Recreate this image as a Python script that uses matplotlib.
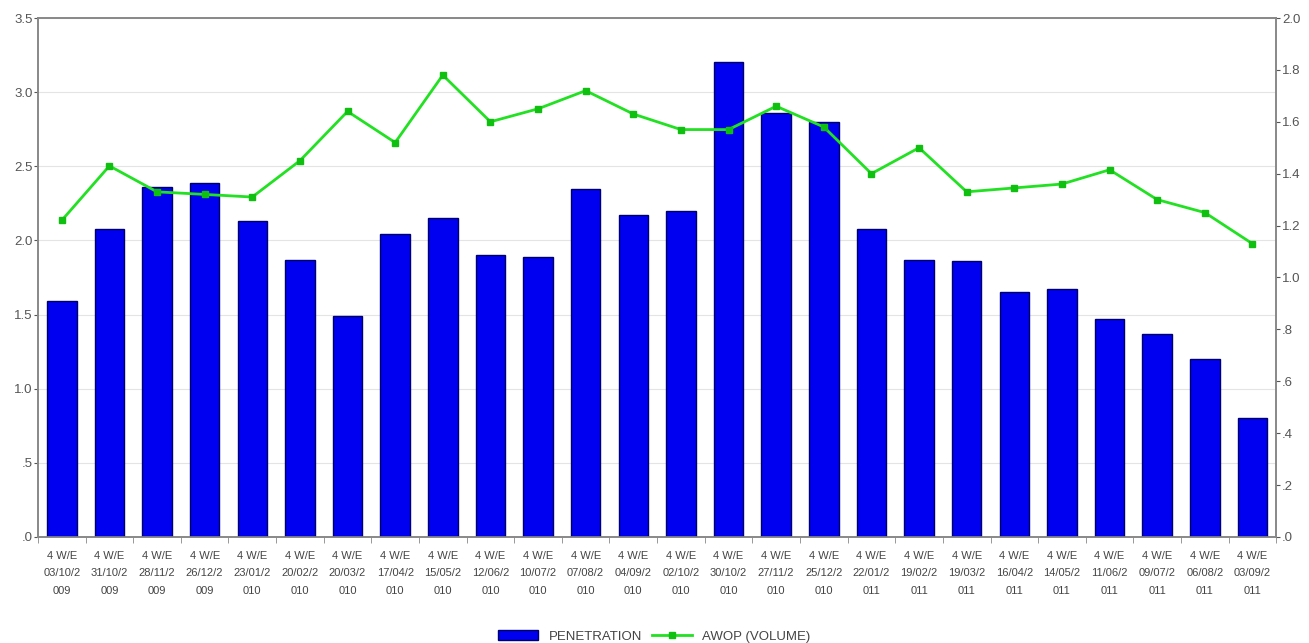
import matplotlib
matplotlib.use("Agg")
import matplotlib.pyplot as plt
import numpy as np

# Four-week-ending periods, Oct 2009 - Sep 2011
periods = ["03/10/2009", "31/10/2009", "28/11/2009", "26/12/2009", "23/01/2010",
           "20/02/2010", "20/03/2010", "17/04/2010", "15/05/2010", "12/06/2010",
           "10/07/2010", "07/08/2010", "04/09/2010", "02/10/2010", "30/10/2010",
           "27/11/2010", "25/12/2010", "22/01/2011", "19/02/2011", "19/03/2011",
           "16/04/2011", "14/05/2011", "11/06/2011", "09/07/2011", "06/08/2011",
           "03/09/2011"]
penetration = [1.59, 2.08, 2.36, 2.39, 2.13, 1.87, 1.49, 2.04, 2.15, 1.90,
               1.89, 2.35, 2.17, 2.20, 3.20, 2.86, 2.80, 2.08, 1.87, 1.86,
               1.65, 1.67, 1.47, 1.37, 1.20, 0.80]
awop_volume = [1.22, 1.43, 1.33, 1.32, 1.31, 1.45, 1.64, 1.52, 1.78, 1.60,
               1.65, 1.72, 1.63, 1.57, 1.57, 1.66, 1.58, 1.40, 1.50, 1.33,
               1.345, 1.36, 1.415, 1.30, 1.25, 1.13]

# "4 W/E\n03/10/2\n009" style wrapped labels
labels = ["4 W/E\n" + p[:7] + "\n" + p[7:] for p in periods]

plt.rcParams['font.family'] = ['Liberation Sans Narrow', 'Liberation Sans', 'DejaVu Sans']

fig = plt.figure(figsize=(13.09, 6.43), dpi=100)
ax = fig.add_axes([0.029, 0.165, 0.946, 0.807])
ax2 = ax.twinx()

x = np.arange(len(periods))
ax.bar(x, penetration, width=0.62, color='#0000f0', edgecolor='#00006a',
       linewidth=1.0, zorder=3, label='PENETRATION')
ax2.plot(x, awop_volume, color='#22e022', lw=2, marker='s', markersize=4,
         markerfacecolor='#10c010', markeredgecolor='#10c010', zorder=4,
         label='AWOP (VOLUME)')

ax.set_xlim(-0.5, len(periods) - 0.5)
ax.set_ylim(0, 3.5)
ax2.set_ylim(0, 2.0)

def short_fmt(t):
    s = "%.1f" % t
    return s.lstrip('0') if t < 1 else s

left_ticks = np.arange(0, 3.51, 0.5)
ax.set_yticks(left_ticks)
ax.set_yticklabels([short_fmt(t) for t in left_ticks])
right_ticks = np.arange(0, 2.01, 0.2)
ax2.set_yticks(right_ticks)
ax2.set_yticklabels([short_fmt(t) for t in right_ticks])

ax.set_xticks(x)
ax.set_xticklabels(labels, fontsize=8, color='#444444', linespacing=1.95)
ax.set_xticks(np.arange(-0.5, len(periods), 1), minor=True)
ax.tick_params(axis='x', which='major', length=0, pad=10)
ax.tick_params(axis='x', which='minor', length=4, color='#888888')
ax.tick_params(axis='y', labelsize=9.5, colors='#555555', length=3, pad=1)
ax2.tick_params(axis='y', labelsize=9.5, colors='#555555', length=3, pad=1)

ax.yaxis.grid(True, color='#e4e4e4', lw=0.8, zorder=0)
ax.set_axisbelow(True)
for a in (ax, ax2):
    for s in a.spines.values():
        s.set_color('#888888')
        s.set_linewidth(1.2)

h1, l1 = ax.get_legend_handles_labels()
h2, l2 = ax2.get_legend_handles_labels()
fig.legend(h1 + h2, l1 + l2, loc='lower center', bbox_to_anchor=(0.5, -0.018),
           ncol=2, frameon=False, fontsize=9.5, handlelength=3.0,
           columnspacing=0.8, labelcolor='#444444')

fig.savefig("out.png", dpi=100, facecolor='white')
